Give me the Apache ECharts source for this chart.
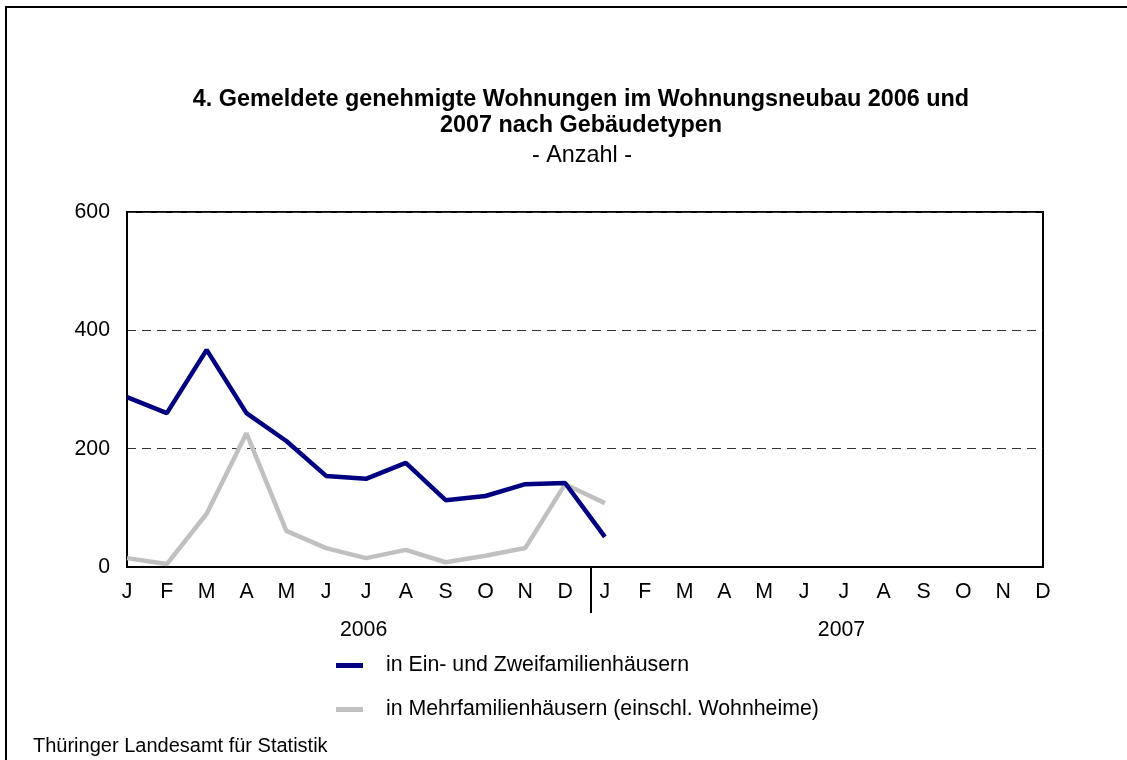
<!DOCTYPE html>
<html style="height: 100%">
<head>
<meta charset="utf-8">
<script src="https://cdn.jsdelivr.net/npm/echarts@6/dist/echarts.min.js"></script>
</head>
<body style="height: 100%; margin: 0; background: #fff">
<div id="container" style="width: 1127px; height: 760px"></div>
<script type="text/javascript">
// month labels, two years
var months = ['J','F','M','A','M','J','J','A','S','O','N','D',
              'J','F','M','A','M','J','J','A','S','O','N','D'];
var years = ['2006', '2007'];
// Ein- und Zweifamilienhäuser
var einZwei = [287, 260, 367, 260, 213, 154, 149, 176, 113, 120, 140, 142,
               51, null, null, null, null, null, null, null, null, null, null, null];
// Mehrfamilienhäuser
var mehr = [15, 5, 90, 226, 61, 32, 15, 29, 8, 19, 32, 140,
            108, null, null, null, null, null, null, null, null, null, null, null];
var seriesNames = ['in Ein- und Zweifamilienhäusern', 'in Mehrfamilienhäusern (einschl. Wohnheime)'];

var font = 'Liberation Sans, Arial, sans-serif';
var lab = 21.3;
var dom = document.getElementById('container');
var myChart = echarts.init(dom, null, {renderer: 'canvas'});

var option = {
    backgroundColor: '#fff',
    animation: false,
    title: [{
        text: '4. Gemeldete genehmigte Wohnungen im Wohnungsneubau 2006 und\n2007 nach Gebäudetypen',
        left: 576,
        textAlign: 'center',
        top: 82,
        textStyle: {color: '#000', fontFamily: font, fontSize: 23.4, fontWeight: 'bold', lineHeight: 26}
    }, {
        text: '- Anzahl -',
        left: 577,
        textAlign: 'center',
        top: 139,
        textStyle: {color: '#000', fontFamily: font, fontSize: 23.4, fontWeight: 'normal'}
    }, {
        text: 'Thüringer Landesamt für Statistik',
        left: 28,
        top: 731,
        textStyle: {color: '#000', fontFamily: font, fontSize: 20, fontWeight: 'normal'}
    }],
    graphic: [{
        type: 'rect',
        shape: {x: 6, y: 7, width: 1300, height: 900},
        style: {fill: 'none', stroke: '#000', lineWidth: 2},
        silent: true
    }],
    legend: {
        orient: 'vertical',
        left: 331,
        top: 650,
        itemWidth: 27,
        itemHeight: 5,
        itemGap: 23,
        icon: 'rect',
        data: seriesNames,
        textStyle: {color: '#000', fontFamily: font, fontSize: lab, padding: [0, 0, 0, 18]}
    },
    grid: {
        left: 127,
        right: 84,
        top: 212,
        bottom: 193,
        show: true,
        borderColor: '#000',
        borderWidth: 2,
        backgroundColor: '#fff'
    },
    xAxis: [{
        type: 'category',
        data: months,
        boundaryGap: false,
        axisLine: {show: true, lineStyle: {color: '#000', width: 2}},
        axisTick: {show: false},
        axisLabel: {interval: 0, color: '#000', fontFamily: font, fontSize: lab, margin: 15},
        splitLine: {show: false}
    }, {
        type: 'value',
        min: 0,
        max: 23,
        position: 'bottom',
        axisLine: {show: false},
        axisTick: {show: true, customValues: [11.65], length: 46, lineStyle: {color: '#000', width: 2}},
        axisLabel: {
            customValues: [5.94, 17.94],
            color: '#000', fontFamily: font, fontSize: lab, margin: 53,
            formatter: function (v) { return v < 11.65 ? years[0] : years[1]; }
        },
        splitLine: {show: false}
    }],
    yAxis: {
        type: 'value',
        min: 0,
        max: 600,
        interval: 200,
        axisLine: {show: true, lineStyle: {color: '#000', width: 2}},
        axisTick: {show: false},
        axisLabel: {color: '#000', fontFamily: font, fontSize: lab, margin: 17},
        splitLine: {show: true, lineStyle: {color: '#333', width: 1, type: [9, 6]}}
    },
    series: [{
        name: seriesNames[0],
        type: 'line',
        data: einZwei,
        showSymbol: false,
        symbol: 'none',
        color: '#000080',
        lineStyle: {color: '#000080', width: 4.5},
        z: 3
    }, {
        name: seriesNames[1],
        type: 'line',
        data: mehr,
        showSymbol: false,
        symbol: 'none',
        color: '#c0c0c0',
        lineStyle: {color: '#c0c0c0', width: 4.5},
        z: 2
    }]
};
myChart.setOption(option, true);
</script>
</body>
</html>
